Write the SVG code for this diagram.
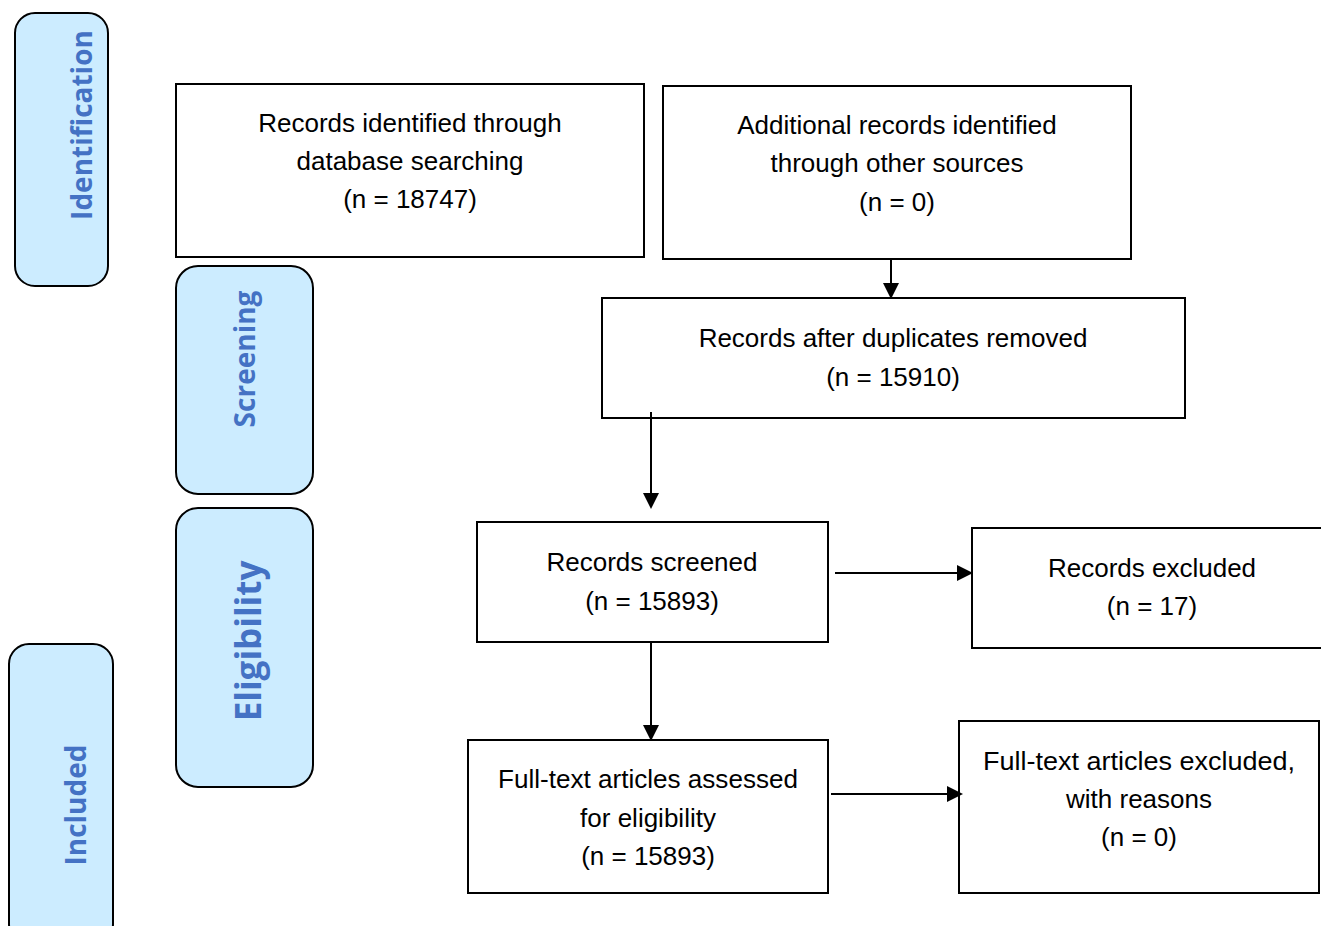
<svg xmlns="http://www.w3.org/2000/svg" width="1321" height="926" viewBox="0 0 1321 926">
<style>
.box{fill:#fff;stroke:#000;stroke-width:2}
.phase{fill:#CCECFF;stroke:#000;stroke-width:2}
.t{font-family:"Liberation Sans",Arial,sans-serif;font-size:26px;fill:#000;text-anchor:middle}
.p{font-family:"Open Sans","Liberation Sans",sans-serif;font-weight:bold;fill:#4472C4;text-anchor:middle}
.c{stroke:#000;stroke-width:2;fill:none;marker-end:url(#ah)}
</style>
<defs>
<marker id="ah" markerWidth="8" markerHeight="8" refX="7" refY="4" orient="auto" markerUnits="strokeWidth">
<path d="M0,0 L8,4 L0,8 z" fill="#000"/>
</marker>
</defs>
<rect width="1321" height="926" fill="#fff"/>
<g id="phase-identification"><rect class="phase" x="15" y="13" width="93" height="273" rx="20"/><text class="p" font-size="28" transform="translate(92,125) rotate(-90)">Identification</text></g>
<g id="phase-screening"><rect class="phase" x="176" y="266" width="137" height="228" rx="22"/><text class="p" font-size="28" transform="translate(255,359) rotate(-90)">Screening</text></g>
<g id="phase-eligibility"><rect class="phase" x="176" y="508" width="137" height="279" rx="22"/><text class="p" font-size="35" transform="translate(261,641) rotate(-90)">Eligibility</text></g>
<g id="phase-included"><rect class="phase" x="9" y="644" width="104" height="300" rx="20"/><text class="p" font-size="28" transform="translate(86,805) rotate(-90)">Included</text></g>

<g id="n-db"><rect class="box" x="176" y="84" width="468" height="173"/>
<text class="t" x="410" y="132">Records identified through</text><text class="t" x="410" y="170">database searching</text><text class="t" x="410" y="208">(n = 18747)</text></g>
<g id="n-other"><rect class="box" x="663" y="86" width="468" height="173"/>
<text class="t" x="897" y="134">Additional records identified</text><text class="t" x="897" y="172">through other sources</text><text class="t" x="897" y="211">(n = 0)</text></g>
<g id="n-dup"><rect class="box" x="602" y="298" width="583" height="120"/>
<text class="t" x="893" y="347">Records after duplicates removed</text><text class="t" x="893" y="386">(n = 15910)</text></g>
<g id="n-screened"><rect class="box" x="477" y="522" width="351" height="120"/>
<text class="t" x="652" y="571">Records screened</text><text class="t" x="652" y="610">(n = 15893)</text></g>
<g id="n-excluded"><rect class="box" x="972" y="528" width="360" height="120"/>
<text class="t" x="1152" y="577">Records excluded</text><text class="t" x="1152" y="615">(n = 17)</text></g>
<g id="n-fulltext"><rect class="box" x="468" y="740" width="360" height="153"/>
<text class="t" x="648" y="788" textLength="300" lengthAdjust="spacingAndGlyphs">Full-text articles assessed</text><text class="t" x="648" y="827">for eligibility</text><text class="t" x="648" y="865">(n = 15893)</text></g>
<g id="n-ftexcl"><rect class="box" x="959" y="721" width="360" height="172"/>
<text class="t" x="1139" y="770" textLength="312" lengthAdjust="spacingAndGlyphs">Full-text articles excluded,</text><text class="t" x="1139" y="808">with reasons</text><text class="t" x="1139" y="846">(n = 0)</text></g>

<g id="connectors">
<line class="c" x1="891" y1="259" x2="891" y2="297"/>
<line class="c" x1="651" y1="412" x2="651" y2="507"/>
<line class="c" x1="835" y1="573" x2="971" y2="573"/>
<line class="c" x1="651" y1="642" x2="651" y2="739"/>
<line class="c" x1="831" y1="794" x2="961" y2="794"/>
</g>
</svg>
